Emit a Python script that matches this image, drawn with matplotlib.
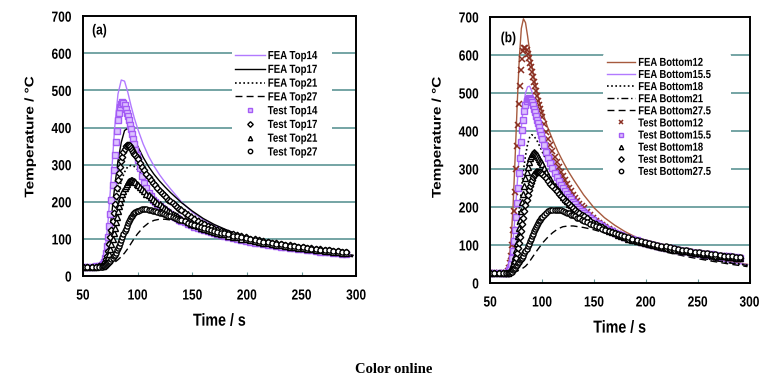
import matplotlib
matplotlib.use("Agg")
import matplotlib.pyplot as plt
from matplotlib.patheffects import AbstractPathEffect
from matplotlib.transforms import Affine2D

# ---------------- data ----------------
t_fea_a = [50, 60, 66, 70, 73, 76, 79, 82, 85, 88, 91, 94, 97, 100, 105, 110, 115, 120,
           125, 130, 140, 150, 160, 170, 180, 190, 200, 220, 240, 260, 280, 297]
fea_top14 = [25, 26, 30, 60, 150, 270, 400, 490, 528, 525, 495, 458, 425, 397, 356, 323,
             296, 273, 253, 235, 200, 172, 152, 137, 125, 114, 104, 89, 78, 69, 61, 55]
fea_top17 = [25, 25, 27, 40, 90, 160, 240, 310, 360, 392, 398, 388, 370, 350, 320, 295,
             274, 256, 240, 225, 198, 175, 155, 139, 126, 114, 104, 90, 79, 70, 62, 56]
fea_top21 = [25, 25, 26, 32, 60, 110, 165, 215, 255, 280, 295, 298, 295, 287, 272, 257,
             243, 230, 218, 206, 185, 165, 148, 134, 122, 112, 103, 89, 78, 69, 61, 55]
fea_top27 = [25, 25, 25, 27, 30, 35, 37, 44, 52, 62, 74, 88, 102, 114, 131, 143,
             150, 153, 153, 151, 145, 138, 130, 122, 115, 107, 100, 88, 77, 68, 59, 52]

t_test = [50, 54, 58, 62, 65,
          67, 68, 69, 70, 71, 72, 73, 74, 75, 76, 77, 78, 79, 80, 81, 82, 83, 84, 85, 86, 87, 88,
          89, 90, 91, 92, 93, 94, 95, 96, 97, 98, 99, 100,
          102, 104, 106, 108, 110, 112, 114, 116, 118, 120, 122, 124, 126, 128, 130, 132, 134, 136, 138, 140,
          143, 146, 149, 152, 155, 158, 161, 164, 167, 170, 173, 176, 179,
          183, 187, 191, 195, 199, 203, 207, 211, 215, 219, 223, 227, 231, 235, 239, 243, 247, 251,
          255, 259, 263, 267, 271, 275, 279, 283, 287, 291]

test_top14 = [25, 25, 25, 26, 27,
              30, 33, 38, 48, 62, 80, 105, 135, 168, 205, 245, 285, 325, 360, 392, 420, 440, 455, 464, 468, 466, 460,
              451, 440, 430, 420, 408, 396, 383, 370, 355, 340, 326, 313,
              290, 270, 250, 236, 225, 215, 206, 199, 193, 188, 183, 178, 174, 170, 166, 162, 159, 156, 152, 149,
              145, 141, 137, 133, 130, 127, 124, 121, 118, 115, 113, 110, 108,
              105, 102, 100, 97, 95, 93, 90, 88, 86, 84, 83, 81, 79, 78, 76, 75, 73, 72,
              70, 69, 68, 66, 65, 64, 63, 62, 60, 59]
test_top17 = [25, 25, 25, 25, 26,
              28, 30, 33, 38, 45, 55, 68, 85, 104, 125, 147, 170, 193, 215, 238, 260, 278, 295, 310, 322, 333, 342,
              349, 353, 354, 352, 349, 345, 340, 335, 330, 325, 320, 315,
              305, 295, 285, 276, 267, 259, 251, 244, 237, 230, 224, 218, 212, 206, 201, 196, 191, 186, 181, 177,
              171, 165, 159, 154, 149, 144, 140, 136, 132, 128, 125, 122, 119,
              116, 113, 110, 107, 104, 101, 99, 96, 94, 92, 90, 88, 86, 84, 83, 81, 79, 78,
              76, 75, 73, 72, 71, 69, 68, 67, 66, 65]
test_top21 = [25, 25, 25, 25, 26,
              27, 28, 30, 33, 37, 43, 51, 60, 72, 85, 100, 115, 130, 145, 160, 175, 188, 200, 211, 220, 229, 237,
              243, 248, 252, 255, 257, 258, 258, 257, 255, 252, 249, 246,
              240, 234, 228, 222, 217, 212, 207, 202, 198, 193, 189, 184, 180, 176, 172, 168, 164, 161, 157, 154,
              150, 145, 141, 137, 134, 130, 127, 124, 121, 119, 116, 114, 112,
              109, 106, 104, 101, 99, 96, 94, 92, 90, 88, 86, 84, 83, 81, 79, 78, 76, 75,
              73, 72, 71, 69, 68, 67, 66, 64, 63, 62]
test_top27 = [25, 25, 25, 25, 25,
              25, 26, 27, 28, 30, 32, 35, 38, 41, 45, 49, 53, 58, 63, 69, 75, 82, 90, 97, 105, 112, 120,
              128, 135, 142, 148, 153, 158, 162, 166, 169, 172, 174, 176,
              178, 180, 180, 180, 179, 178, 176, 175, 173, 171, 169, 167, 165, 163, 161, 159, 157, 155, 152, 150,
              147, 144, 141, 138, 135, 132, 129, 126, 124, 121, 119, 117, 115,
              112, 109, 107, 104, 102, 99, 97, 95, 93, 91, 89, 87, 85, 83, 82, 80, 78, 77,
              75, 74, 73, 71, 70, 69, 68, 67, 66, 65]

t_fea_b = [50, 60, 66, 68, 70, 72, 74, 76, 78, 80, 82, 84, 86, 88, 90, 92, 95, 98, 101, 105,
           110, 115, 120, 125, 130, 140, 150, 160, 170, 180, 190, 200, 220, 240, 260, 280, 298]
fea_bot12 = [25, 25, 30, 55, 110, 200, 330, 470, 590, 670, 695, 685, 650, 610, 572, 540, 500, 470, 445, 412,
             378, 347, 320, 295, 273, 232, 198, 172, 152, 135, 121, 109, 91, 77, 66, 57, 49]
fea_bot155 = [25, 25, 27, 35, 60, 110, 180, 260, 340, 410, 465, 500, 516, 518, 505, 485, 455, 425, 398, 365,
              330, 300, 275, 252, 233, 200, 175, 156, 140, 127, 116, 106, 89, 75, 64, 55, 48]
fea_bot18 = [25, 25, 26, 30, 42, 65, 100, 145, 195, 245, 295, 335, 365, 383, 390, 387, 375, 358, 340, 318,
             292, 270, 250, 233, 218, 192, 170, 152, 137, 124, 113, 103, 87, 74, 63, 54, 47]
fea_bot21 = [25, 25, 25, 27, 33, 45, 65, 90, 120, 152, 185, 215, 240, 262, 280, 292, 300, 298, 292, 280,
             264, 248, 233, 220, 208, 186, 166, 150, 135, 122, 111, 101, 86, 73, 62, 53, 46]
fea_bot275 = [25, 25, 25, 25, 26, 27, 29, 31, 34, 37, 40, 44, 50, 57, 65, 73, 85, 96, 107, 119,
              132, 142, 148, 150, 150, 146, 140, 132, 122, 112, 103, 95, 81, 69, 59, 50, 43]

test_bot12 = [25, 25, 25, 25, 27,
              32, 40, 52, 70, 100, 140, 190, 240, 300, 360, 415, 470, 518, 560, 590, 610, 618, 618, 612, 603, 592, 580,
              568, 555, 543, 530, 517, 505, 492, 480, 469, 458, 447, 437,
              417, 398, 380, 363, 347, 332, 318, 305, 293, 281, 270, 260, 250, 241, 232, 224, 216, 209, 202, 196,
              187, 179, 171, 164, 158, 152, 146, 141, 136, 132, 128, 124, 121,
              117, 114, 111, 108, 105, 102, 99, 97, 94, 92, 90, 88, 86, 84, 83, 81, 79, 78,
              76, 75, 74, 72, 71, 70, 69, 68, 67, 66]
test_bot155 = [25, 25, 25, 25, 26,
               29, 33, 40, 50, 65, 85, 110, 140, 173, 210, 250, 290, 330, 370, 402, 430, 452, 468, 478, 484, 486, 485,
               481, 475, 467, 458, 449, 440, 430, 420, 410, 400, 390, 380,
               362, 345, 330, 315, 302, 290, 279, 269, 259, 250, 242, 234, 227, 220, 213, 207, 201, 195, 190, 185,
               178, 171, 165, 159, 154, 149, 144, 140, 136, 132, 128, 125, 122,
               118, 115, 112, 109, 106, 103, 100, 98, 95, 93, 91, 89, 87, 85, 84, 82, 80, 79,
               77, 76, 75, 73, 72, 71, 70, 69, 68, 67]
test_bot18 = [25, 25, 25, 25, 26,
              27, 29, 32, 36, 42, 50, 60, 72, 88, 105, 124, 145, 167, 190, 213, 235, 256, 275, 291, 305, 317, 328,
              335, 340, 343, 344, 343, 340, 336, 332, 327, 322, 317, 312,
              302, 292, 282, 273, 264, 256, 248, 241, 234, 227, 221, 215, 209, 204, 199, 194, 189, 185, 180, 176,
              170, 165, 159, 155, 150, 146, 142, 138, 134, 131, 127, 124, 121,
              117, 114, 111, 108, 105, 102, 99, 97, 94, 92, 90, 88, 86, 84, 83, 81, 79, 78,
              76, 75, 74, 72, 71, 70, 69, 68, 67, 66]
test_bot21 = [25, 25, 25, 25, 25,
              26, 27, 29, 31, 35, 40, 47, 55, 66, 78, 91, 105, 121, 138, 155, 172, 189, 205, 219, 232, 244, 255,
              264, 272, 278, 284, 288, 291, 292, 293, 292, 291, 289, 287,
              281, 275, 268, 261, 254, 248, 241, 235, 229, 223, 217, 212, 207, 202, 197, 192, 188, 184, 179, 175,
              170, 164, 159, 154, 150, 146, 142, 138, 134, 131, 127, 124, 121,
              117, 114, 111, 108, 105, 102, 99, 97, 94, 92, 90, 88, 86, 84, 83, 81, 79, 78,
              76, 75, 74, 72, 71, 70, 69, 68, 67, 66]
test_bot275 = [25, 25, 25, 25, 25,
               25, 26, 27, 28, 30, 33, 36, 40, 44, 48, 52, 56, 60, 63, 67, 72, 78, 84, 90, 97, 103, 110,
               117, 123, 130, 136, 142, 148, 153, 158, 163, 167, 171, 174,
               180, 185, 189, 191, 192, 193, 193, 192, 191, 189, 187, 185, 183, 180, 178, 175, 172, 170, 167, 164,
               160, 156, 152, 149, 146, 143, 140, 137, 134, 131, 128, 126, 123,
               120, 117, 114, 111, 108, 106, 103, 101, 98, 96, 94, 92, 90, 88, 86, 84, 82, 81,
               79, 78, 76, 75, 73, 72, 71, 70, 69, 68]

x_ticks = [50, 100, 150, 200, 250, 300]
y_ticks = [0, 100, 200, 300, 400, 500, 600, 700]


# ---------------- styling ----------------
class HSquash(AbstractPathEffect):
    """Narrow a text horizontally (the reference image is squeezed in x)."""

    def __init__(self, sx=0.82, anchor='center'):
        super().__init__()
        self.sx = sx
        self.anchor = anchor

    def draw_path(self, renderer, gc, tpath, affine, rgbFace=None):
        ext = tpath.transformed(affine).get_extents()
        if self.anchor == 'left':
            cx = ext.x0
        elif self.anchor == 'right':
            cx = ext.x1
        else:
            cx = 0.5 * (ext.x0 + ext.x1)
        new_aff = affine + Affine2D().translate(-cx, 0).scale(self.sx, 1).translate(cx, 0)
        renderer.draw_path(gc, tpath, new_aff, rgbFace)


FONT = 'Liberation Sans'
SQ = 0.82
PURPLE = '#b27aff'
PURPLE_M = '#a45cf5'
BROWN = '#a65a3e'
BROWN_M = '#8a2f22'
GRID = '#4e8c8c'

fig = plt.figure(figsize=(7.72, 3.85), dpi=100)
ax_a = fig.add_axes([0.1075, 0.283, 0.354, 0.675])
ax_b = fig.add_axes([0.635, 0.265, 0.336, 0.691])


def style_axes(ax, tag, tag_xy, ylab_xy):
    ax.set_xlim(50, 300)
    ax.set_ylim(0, 700)
    ax.set_xticks(x_ticks)
    ax.set_yticks(y_ticks)
    for yv in y_ticks[1:-1]:
        ax.axhline(yv, color=GRID, lw=1.1, zorder=0)
    for s in ax.spines.values():
        s.set_linewidth(1.4)
        s.set_color('black')
    ax.tick_params(axis='x', direction='in', length=3, width=0.8, color='#6a9a9a',
                   pad=9, labelsize=10.5)
    ax.tick_params(axis='y', length=0, pad=8, labelsize=10.5)
    for lab in ax.get_xticklabels():
        lab.set_fontfamily(FONT)
        lab.set_fontweight('bold')
        lab.set_path_effects([HSquash(SQ, 'center')])
    for lab in ax.get_yticklabels():
        lab.set_fontfamily(FONT)
        lab.set_fontweight('bold')
        lab.set_path_effects([HSquash(SQ, 'right')])
    xl = ax.set_xlabel('Time / s', fontsize=12.5, fontfamily=FONT, fontweight='bold', labelpad=8)
    xl.set_path_effects([HSquash(SQ, 'center')])
    yl = ax.set_ylabel('Temperature / °C', fontsize=11, fontfamily=FONT, fontweight='bold')
    yl.set_path_effects([HSquash(SQ, 'center')])
    ax.yaxis.set_label_coords(*ylab_xy)
    tg = ax.text(tag_xy[0], tag_xy[1], tag, transform=ax.transAxes, fontsize=10.5,
                 fontfamily=FONT, fontweight='bold', va='center', ha='left')
    tg.set_path_effects([HSquash(SQ, 'left')])


def style_legend(leg):
    leg.get_frame().set_facecolor('white')
    leg.get_frame().set_edgecolor('none')
    leg.get_frame().set_alpha(1)
    for txt in leg.get_texts():
        txt.set_path_effects([HSquash(SQ, 'left')])


mk = dict(linestyle='none', markersize=3.7, markeredgewidth=1.0)

# panel a
ax_a.plot(t_fea_a, fea_top14, color=PURPLE, lw=1.0, label='FEA Top14')
ax_a.plot(t_fea_a, fea_top17, color='black', lw=1.0, label='FEA Top17')
ax_a.plot(t_fea_a, fea_top21, color='black', lw=1.2, ls=(0, (1, 1.5)), label='FEA Top21')
ax_a.plot(t_fea_a, fea_top27, color='black', lw=1.0, ls=(0, (5, 3)), label='FEA Top27')
ax_a.plot(t_test, test_top14, marker='s', color=PURPLE_M, markerfacecolor='#dcc0ff',
          label='Test Top14', **mk)
ax_a.plot(t_test, test_top17, marker='D', color='black', markerfacecolor='white',
          label='Test Top17', linestyle='none', markersize=3.3, markeredgewidth=1.0)
ax_a.plot(t_test, test_top21, marker='^', color='black', markerfacecolor='white',
          label='Test Top21', **mk)
ax_a.plot(t_test, test_top27, marker='o', color='black', markerfacecolor='white',
          label='Test Top27', **mk)
style_axes(ax_a, '(a)', (0.033, 0.945), (-0.168, 0.535))
leg_a = ax_a.legend(loc='upper left', bbox_to_anchor=(0.544, 0.883), frameon=True,
                    prop={'family': FONT, 'weight': 'bold', 'size': 8.5},
                    handlelength=2.55, handletextpad=0.2, labelspacing=0.15,
                    borderpad=0.3, borderaxespad=0, markerscale=0.85)
style_legend(leg_a)

# panel b
ax_b.plot(t_fea_b, fea_bot12, color=BROWN, lw=1.0, label='FEA Bottom12')
ax_b.plot(t_fea_b, fea_bot155, color=PURPLE, lw=1.0, label='FEA Bottom15.5')
ax_b.plot(t_fea_b, fea_bot18, color='black', lw=1.2, ls=(0, (1, 1.5)), label='FEA Bottom18')
ax_b.plot(t_fea_b, fea_bot21, color='black', lw=1.0, ls=(0, (5, 2, 1, 2)), label='FEA Bottom21')
ax_b.plot(t_fea_b, fea_bot275, color='black', lw=1.0, ls=(0, (5, 3)), label='FEA Bottom27.5')
ax_b.plot(t_test, test_bot12, marker='x', color=BROWN_M, label='Test Bottom12',
          linestyle='none', markersize=3.7, markeredgewidth=1.1)
ax_b.plot(t_test, test_bot155, marker='s', color=PURPLE_M, markerfacecolor='#dcc0ff',
          label='Test Bottom15.5', **mk)
ax_b.plot(t_test, test_bot18, marker='^', color='black', markerfacecolor='white',
          label='Test Bottom18', **mk)
ax_b.plot(t_test, test_bot21, marker='D', color='black', markerfacecolor='white',
          label='Test Bottom21', linestyle='none', markersize=3.3, markeredgewidth=1.0)
ax_b.plot(t_test, test_bot275, marker='o', color='black', markerfacecolor='white',
          label='Test Bottom27.5', **mk)
style_axes(ax_b, '(b)', (0.04, 0.92), (-0.177, 0.547))
leg_b = ax_b.legend(loc='upper left', bbox_to_anchor=(0.4365, 0.863), frameon=True,
                    prop={'family': FONT, 'weight': 'bold', 'size': 8.3},
                    handlelength=2.45, handletextpad=0.26, labelspacing=0.01,
                    borderpad=0.3, borderaxespad=0, markerscale=0.85)
style_legend(leg_b)

fig.text(0.51, 0.039, 'Color online', ha='center', va='center', fontsize=10.5,
         fontfamily='Liberation Serif', fontweight='bold')

fig.savefig('out.png', dpi=100, facecolor='white')
